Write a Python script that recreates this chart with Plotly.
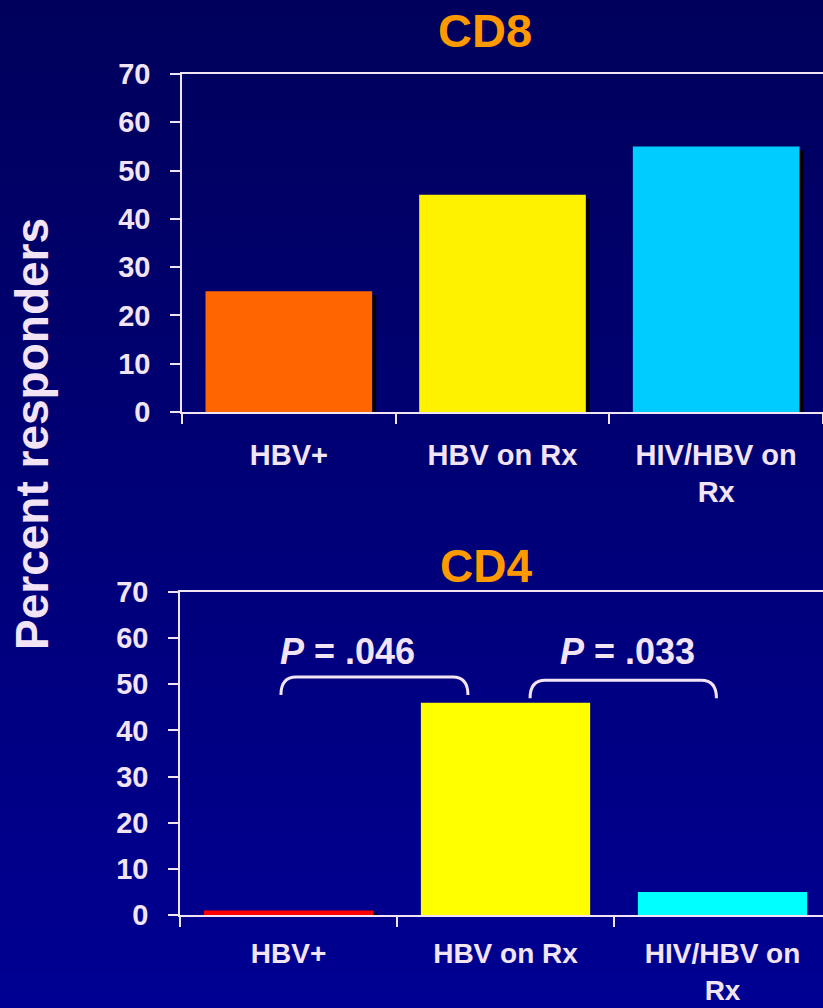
import plotly.graph_objects as go

categories = ["HBV+", "HBV on Rx", "HIV/HBV on<br>Rx"]
cd8_values = [25, 45, 55]
cd4_values = [1, 46, 5]
cd8_colors = ["#FF6600", "#FFF200", "#00CCFF"]
cd4_colors = ["#FF0000", "#FFFF00", "#00FFFF"]
y_ticks = [0, 10, 20, 30, 40, 50, 60, 70]
p_labels = ["<i>P</i> = .046", "<i>P</i> = .033"]
p_label_x = [0.27, 1.56]
p_label_y = [57.2, 57.0]
brackets = [(-0.035, 0.827, 51.6, 47.7), (1.113, 1.972, 50.9, 47.0)]

TXT = "#F2E4F5"
FONT = "Liberation Sans, Arial, sans-serif"
W, H = 823, 1008

fig = go.Figure()

# background gradient
n = 60
for i in range(n):
    t = i / (n - 1)
    b = int(round(0x5C + (0x92 - 0x5C) * t))
    fig.add_shape(type="rect", xref="paper", yref="paper",
                  x0=0, x1=1, y0=1 - (i + 1) / n, y1=1 - i / n + 0.001,
                  fillcolor=f"rgb(0,0,{b})", line_width=0, layer="below")

bw = 0.78
# shadows (top chart)
sx8 = 4 / 213.7
sy8 = 4 / 4.83
fig.add_trace(go.Bar(x=categories, y=cd8_values, base=[-sy8] * 3,
                     offset=-bw / 2 + sx8, width=bw, marker_color="black",
                     marker_line_width=0, xaxis="x", yaxis="y", hoverinfo="skip"))
fig.add_trace(go.Bar(x=categories, y=cd8_values, width=bw,
                     marker_color=cd8_colors, marker_line_width=0,
                     xaxis="x", yaxis="y"))
# bottom chart
sx4 = 4 / 217
sy4 = 3 / 4.61
fig.add_trace(go.Bar(x=categories[:1], y=cd4_values[:1], base=[-sy4],
                     offset=-bw / 2 + sx4, width=bw, marker_color="black",
                     marker_line_width=0, xaxis="x2", yaxis="y2", hoverinfo="skip"))
fig.add_trace(go.Bar(x=categories, y=cd4_values, width=bw,
                     marker_color=cd4_colors, marker_line_width=0,
                     xaxis="x2", yaxis="y2"))

axis_common = dict(showgrid=False, zeroline=False, showline=True, linecolor=TXT,
                   linewidth=1.5, ticks="outside", tickcolor=TXT, tickwidth=1.5,
                   ticklen=10, automargin=False)
tf = dict(family=FONT, size=29, color=TXT, weight="bold")

fig.update_layout(
    width=W, height=H, margin=dict(l=0, r=0, t=0, b=0, pad=0),
    paper_bgcolor="#000070", plot_bgcolor="rgba(0,0,0,0)",
    barmode="overlay", showlegend=False,
    font=dict(family=FONT, color=TXT),
    xaxis=dict(domain=[182 / W, 1], range=[-0.5, 2.5], type="category",
               tickson="boundaries", mirror=True, ticklabelstandoff=16,
               anchor="y", tickfont=tf, **axis_common),
    yaxis=dict(domain=[1 - 412 / H, 1 - 74 / H], range=[0, 70], tickvals=y_ticks,
               ticklabelstandoff=14, anchor="x", tickfont=tf, **axis_common),
    xaxis2=dict(domain=[180 / W, 1], range=[-0.5, 2.463], type="category",
                tickson="boundaries", mirror=True, ticklabelstandoff=13,
                anchor="y2", tickfont=dict(tf, size=28), **axis_common),
    yaxis2=dict(domain=[1 - 915 / H, 1 - 592 / H], range=[0, 70], tickvals=y_ticks,
                ticklabelstandoff=14, anchor="x2", tickfont=tf, **axis_common),
)

# titles
fig.add_annotation(text="<b>CD8</b>", xref="paper", yref="paper", x=485 / W, y=1 - 30 / H,
                   xanchor="center", yanchor="middle", showarrow=False,
                   font=dict(family=FONT, size=47, color="#FF9900"))
fig.add_annotation(text="<b>CD4</b>", xref="paper", yref="paper", x=486 / W, y=1 - 566 / H,
                   xanchor="center", yanchor="middle", showarrow=False,
                   font=dict(family=FONT, size=46, color="#FF9900"))
fig.add_annotation(text="<b>Percent responders</b>", xref="paper", yref="paper",
                   x=32 / W, y=1 - 434 / H, xanchor="center", yanchor="middle",
                   textangle=-90, showarrow=False,
                   font=dict(family=FONT, size=46, color=TXT))

for lbl, px, py in zip(p_labels, p_label_x, p_label_y):
    fig.add_annotation(text=f"<b>{lbl}</b>", xref="x2", yref="y2", x=px, y=py,
                       xanchor="center", yanchor="middle", showarrow=False,
                       font=dict(family=FONT, size=36, color=TXT))

r = 0.07
for xa, xb, yt, ye in brackets:
    path = (f"M {xa},{ye} Q {xa},{yt} {xa + r},{yt} L {xb - r},{yt} "
            f"Q {xb},{yt} {xb},{ye}")
    fig.add_shape(type="path", path=path, xref="x2", yref="y2",
                  line=dict(color=TXT, width=3))

fig.write_html("out.html", config={"displayModeBar": False},
               post_script="document.body.style.margin='0';document.body.style.overflow='hidden';")
